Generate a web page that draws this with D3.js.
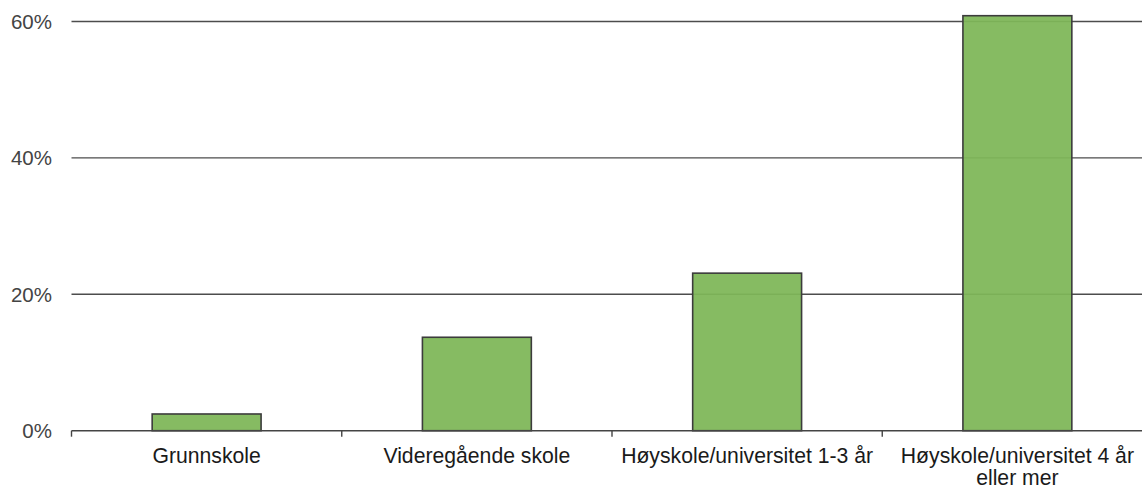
<!DOCTYPE html>
<html>
<head>
<meta charset="utf-8">
<script src="https://cdn.jsdelivr.net/npm/d3@7"></script>
<style>
  html, body { margin: 0; padding: 0; background: #fff; }
  svg { display: block; }
</style>
</head>
<body>
<svg id="chart" width="1142" height="486"></svg>
<script>
const categories = ["Grunnskole", "Videregående skole", "Høyskole/universitet 1-3 år", "Høyskole/universitet 4 år eller mer"];
const categoryLines = [["Grunnskole"], ["Videregående skole"], ["Høyskole/universitet 1-3 år"], ["Høyskole/universitet 4 år", "eller mer"]];
const values = [2.45, 13.7, 23.1, 60.85];
const yTicks = [0, 20, 40, 60];
const yTickLabels = ["0%", "20%", "40%", "60%"];

const W = 1142, H = 486;
const svg = d3.select("#chart");
const left = 71.5, right = 1152.5;
const y0 = 430.7, y60 = 21.5;

const x = d3.scaleBand().domain(categories).range([left, right]).paddingInner(0).paddingOuter(0);
const y = d3.scaleLinear().domain([0, 60]).range([y0, y60]);
const step = x.step();
const bw = step * 0.403;

// gridlines
svg.append("g").selectAll("line")
  .data(yTicks.filter(d => d > 0))
  .join("line")
  .attr("x1", left).attr("x2", W)
  .attr("y1", d => y(d)).attr("y2", d => y(d))
  .attr("stroke", "#4d4d4d").attr("stroke-width", 1.4);

// y labels
svg.append("g").selectAll("text")
  .data(yTicks)
  .join("text")
  .attr("x", 52).attr("y", d => y(d))
  .attr("dy", "0.36em")
  .attr("text-anchor", "end")
  .attr("font-family", "Liberation Sans, Arial, sans-serif")
  .attr("font-size", 20.5)
  .attr("fill", "#444")
  .text((d, i) => yTickLabels[i]);

// bars
svg.append("g").selectAll("rect")
  .data(categories)
  .join("rect")
  .attr("x", d => x(d) + (step - bw) / 2)
  .attr("width", bw)
  .attr("y", (d, i) => y(values[i]))
  .attr("height", (d, i) => y(0) - y(values[i]))
  .attr("fill", "rgb(126,183,88)")
  .attr("fill-opacity", 0.94)
  .attr("stroke", "#3c3c3c")
  .attr("stroke-width", 1.6);

// x axis line
svg.append("line")
  .attr("x1", left).attr("x2", W)
  .attr("y1", y0).attr("y2", y0)
  .attr("stroke", "#444").attr("stroke-width", 1.6);

// ticks at band boundaries
svg.append("g").selectAll("line")
  .data(categories)
  .join("line")
  .attr("x1", d => x(d)).attr("x2", d => x(d))
  .attr("y1", y0).attr("y2", y0 + 6)
  .attr("stroke", "#444").attr("stroke-width", 1.4);

// x labels
const lab = svg.append("g").selectAll("text")
  .data(categories)
  .join("text")
  .attr("x", d => x(d) + step / 2)
  .attr("y", 463)
  .attr("text-anchor", "middle")
  .attr("font-family", "Liberation Sans, Arial, sans-serif")
  .attr("font-size", 21.2)
  .attr("fill", "#1a1a1a");
lab.each(function(d, i) {
  const t = d3.select(this);
  categoryLines[i].forEach((ln, j) => {
    t.append("tspan").attr("x", x(d) + step / 2).attr("dy", j === 0 ? 0 : 22).text(ln);
  });
});
</script>
</body>
</html>
